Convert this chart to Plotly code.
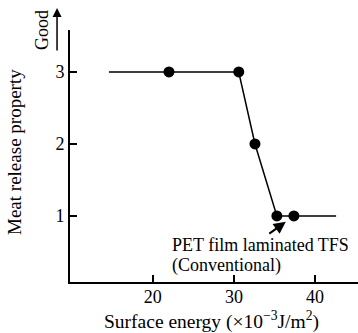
import plotly.graph_objects as go

# Data
line_x = [14.6, 30.6, 32.6, 35.3, 42.6]
line_y = [3, 3, 2, 1, 1]
point_x = [22, 30.6, 32.6, 35.3, 37.4]
point_y = [3, 3, 2, 1, 1]
x_ticks = [20, 30, 40]
y_ticks = [1, 2, 3]

FONT = "Liberation Serif, Times New Roman, serif"
FS = 18

fig = go.Figure()
fig.add_trace(go.Scatter(x=line_x, y=line_y, mode="lines",
                         line=dict(color="black", width=1.5), hoverinfo="skip"))
fig.add_trace(go.Scatter(x=point_x, y=point_y, mode="markers",
                         marker=dict(color="black", size=11), hoverinfo="skip"))

fig.update_layout(
    width=358, height=333,
    margin=dict(l=70, r=0, t=30, b=51),
    paper_bgcolor="white", plot_bgcolor="white",
    showlegend=False,
    font=dict(family=FONT, size=FS, color="black"),
    xaxis=dict(range=[9.8, 45.3], tickvals=x_ticks, ticks="inside", ticklen=7,
               tickwidth=1.5, tickcolor="black", showline=True, linecolor="black",
               linewidth=2, showgrid=False, zeroline=False, automargin=False,
               ticklabelstandoff=-3,
               tickfont=dict(family=FONT, size=FS)),
    yaxis=dict(range=[0.083, 3.583], tickvals=y_ticks, ticks="inside", ticklen=7,
               tickwidth=1.5, tickcolor="black", showline=True, linecolor="black",
               linewidth=2, showgrid=False, zeroline=False, automargin=False,
               tickfont=dict(family=FONT, size=FS)),
)

anns = [
    # y axis title
    dict(xref="paper", yref="paper", x=-0.191, y=0.516, xanchor="center", yanchor="middle",
         text="Meat release property", textangle=-90, showarrow=False, font=dict(size=19)),
    # x axis title
    dict(xref="paper", yref="paper", x=0.49, y=-0.153, xanchor="center", yanchor="middle",
         text="Surface energy (×10<sup>−3</sup>J/m<sup>2</sup>)", showarrow=False,
         font=dict(size=19.5)),
    # Good label
    dict(xref="paper", yref="paper", x=-0.097, y=1.0, xanchor="center", yanchor="middle",
         text="Good", textangle=-90, showarrow=False, font=dict(size=FS)),
    # Good arrow
    dict(xref="paper", yref="paper", x=-0.045, y=1.087, text="", showarrow=True,
         ax=0, ay=44, arrowhead=2, arrowsize=1.2, arrowwidth=1.5, arrowcolor="black"),
    # annotation arrow
    dict(x=36.4, y=0.92, text="", showarrow=True, ax=-18, ay=13, arrowhead=2,
         arrowsize=1.2, arrowwidth=2, arrowcolor="black"),
    dict(x=22.1, y=0.6, xanchor="left", yanchor="middle", text="PET film laminated TFS",
         showarrow=False, font=dict(size=FS)),
    dict(x=22.1, y=0.31, xanchor="left", yanchor="middle", text="(Conventional)",
         showarrow=False, font=dict(size=FS)),
]
fig.update_layout(annotations=anns)

fig.write_html("out.html", config={"displayModeBar": False},
               post_script="document.body.style.margin='0';")
